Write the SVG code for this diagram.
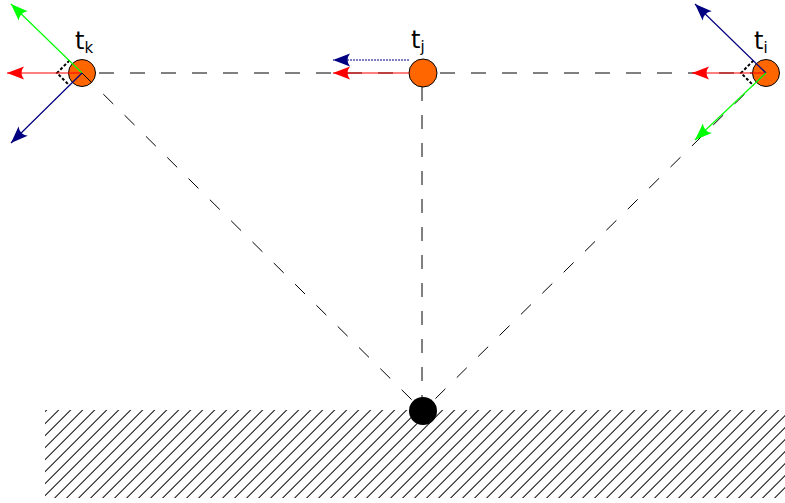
<svg xmlns="http://www.w3.org/2000/svg" width="785" height="503" viewBox="0 0 785 503">
<defs>
<style>
.dash{fill:none;stroke:#000;stroke-width:1;stroke-dasharray:15,16}
.node{fill:#ff6600;stroke:#000;stroke-width:1}
.red{stroke:#ff0000;stroke-width:1.2;fill:none;marker-end:url(#ahR)}
.green{stroke:#00ff00;stroke-width:1.2;fill:none;marker-end:url(#ahG)}
.blue{stroke:#000080;stroke-width:1.2;fill:none;marker-end:url(#ahB)}
.ang{fill:none;stroke:#000;stroke-width:2;stroke-dasharray:3,2}
.lbl{font-family:"DejaVu Sans","Liberation Sans",sans-serif;font-size:24px;fill:#000}
.sub{font-size:15px}
</style>
<marker id="ahR" markerUnits="userSpaceOnUse" markerWidth="20" markerHeight="16" viewBox="-18 -8 20 16" refX="0" refY="0" orient="auto"><path d="M0,0 L-17,-6.5 Q-12,0 -17,6.5 Z" fill="#ff0000"/></marker>
<marker id="ahG" markerUnits="userSpaceOnUse" markerWidth="20" markerHeight="16" viewBox="-18 -8 20 16" refX="0" refY="0" orient="auto"><path d="M0,0 L-17,-6.5 Q-12,0 -17,6.5 Z" fill="#00ff00"/></marker>
<marker id="ahB" markerUnits="userSpaceOnUse" markerWidth="20" markerHeight="16" viewBox="-18 -8 20 16" refX="0" refY="0" orient="auto"><path d="M0,0 L-17,-6.5 Q-12,0 -17,6.5 Z" fill="#000080"/></marker>
<pattern id="hatch" patternUnits="userSpaceOnUse" width="20" height="8.485" patternTransform="rotate(-45)">
<line x1="0" y1="0" x2="20" y2="0" stroke="#000" stroke-width="2"/>
</pattern>
</defs>
<rect id="ground" x="45" y="410" width="740" height="88" fill="url(#hatch)"/>
<g id="connectors">
<line class="dash" x1="99" y1="73" x2="753" y2="73"/>
<line class="dash" x1="422" y1="87" x2="422" y2="400" style="stroke-dasharray:14,14"/>
<polyline class="ang" points="69.5,60.5 57,73 69.5,85.5"/>
<polyline class="ang" points="753.5,60.5 741,73 753.5,85.5"/>
</g>
<g id="node-tk">
<circle class="node" cx="82" cy="73" r="13.5"/>
<text class="lbl" x="75" y="49">t<tspan class="sub" dy="4">k</tspan></text>
</g>
<g id="node-tj">
<circle class="node" cx="423" cy="73" r="14"/>
<text class="lbl" x="411" y="48">t<tspan class="sub" dy="4">j</tspan></text>
</g>
<g id="node-ti">
<circle class="node" cx="766" cy="73" r="13.5"/>
<text class="lbl" x="754" y="49">t<tspan class="sub" dy="4">i</tspan></text>
</g>
<g id="node-base">
<circle cx="423" cy="411" r="14" fill="#000"/>
</g>
<g id="vectors">
<line class="dash" x1="82" y1="73" x2="414" y2="402" style="stroke-dasharray:14,16"/>
<line class="dash" x1="766" y1="73" x2="432" y2="402" style="stroke-dasharray:14,16"/>
<line class="red" x1="82" y1="73" x2="7" y2="73"/>
<line class="green" x1="82" y1="73" x2="11" y2="4"/>
<line class="blue" x1="82" y1="73" x2="11" y2="143"/>
<line class="red" x1="409" y1="73" x2="333" y2="73"/>
<line class="blue" x1="409" y1="60" x2="333" y2="60" style="stroke-dasharray:2,1"/>
<line class="red" x1="766" y1="73" x2="692" y2="73"/>
<line class="blue" x1="766" y1="73" x2="695" y2="4"/>
<line class="green" x1="766" y1="73" x2="695" y2="140"/>
</g>
</svg>
